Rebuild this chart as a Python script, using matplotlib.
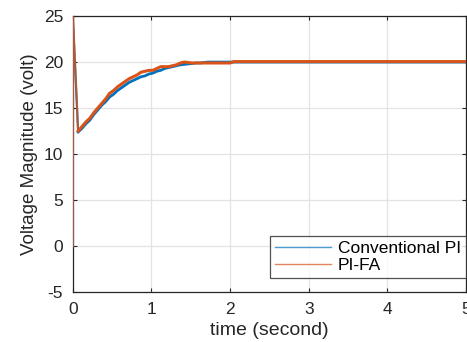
import matplotlib.pyplot as plt

plt.rcParams['font.family'] = ['Liberation Sans', 'DejaVu Sans']
plt.rcParams['axes.unicode_minus'] = False

# ── data ──────────────────────────────────────────────────────
# start-up spike: 0 V -> peak -> dip
spike_t = [0.0, 0.002, 0.067]
pi_spike_v = [0.0, 24.4, 12.4]
fa_spike_v = [0.0, 25.0, 12.5]

# recovery, sampled every ~0.05 s
ramp_t = [0.067, 0.117, 0.167, 0.217, 0.267, 0.317, 0.367, 0.417, 0.467, 0.517,
          0.567, 0.617, 0.667, 0.717, 0.767, 0.817, 0.867, 0.917, 0.967, 1.017,
          1.067, 1.117, 1.167, 1.217, 1.267, 1.317, 1.367, 1.417, 1.467, 1.517,
          1.567, 1.617, 1.667, 1.717, 2.0, 2.05, 5.0]
pi_v = [12.4, 12.8, 13.3, 13.7, 14.3, 14.8, 15.3, 15.7, 16.2, 16.5,
        16.9, 17.2, 17.5, 17.8, 18.0, 18.2, 18.4, 18.5, 18.7, 18.8,
        19.0, 19.1, 19.3, 19.4, 19.5, 19.6, 19.7, 19.75, 19.8, 19.85,
        19.9, 19.9, 19.95, 20.0, 20.0, 20.0, 20.0]
fa_v = [12.5, 13.0, 13.5, 13.9, 14.5, 15.0, 15.5, 16.0, 16.6, 16.9,
        17.3, 17.6, 17.9, 18.2, 18.4, 18.6, 18.9, 19.0, 19.1, 19.1,
        19.3, 19.5, 19.5, 19.5, 19.6, 19.7, 19.9, 20.0, 19.95, 19.9,
        19.9, 19.9, 19.9, 19.9, 19.9, 20.05, 20.05]

x_ticks = [0, 1, 2, 3, 4, 5]
y_ticks = [-5, 0, 5, 10, 15, 20, 25]

BLUE = '#0072BD'
ORANGE = '#D95319'
INK = '#262626'

# ── figure ────────────────────────────────────────────────────
fig = plt.figure(figsize=(4.67, 3.42), dpi=100)
ax = fig.add_axes([0.156, 0.146, 0.842, 0.807])

ax.plot(spike_t, pi_spike_v, color=BLUE, lw=1.5, zorder=3)
ax.plot(ramp_t, pi_v, color=BLUE, lw=2.0, zorder=3, label='Conventional PI')
ax.plot(spike_t, fa_spike_v, color=ORANGE, lw=1.5, alpha=0.8, zorder=4)
ax.plot(ramp_t, fa_v, color=ORANGE, lw=2.2, zorder=4, label='PI-FA')

ax.set_xlim(0, 5)
ax.set_ylim(-5, 25)
ax.set_xticks(x_ticks)
ax.set_yticks(y_ticks)
ax.grid(True, color='#e3e3e3', lw=0.9)
ax.set_axisbelow(True)
ax.tick_params(direction='in', length=3, width=0.8, colors=INK,
               labelsize=12.5, labelcolor=INK, top=True, right=True, pad=7)
for s in ax.spines.values():
    s.set_color(INK)
    s.set_linewidth(0.9)

ax.set_xlabel('time (second)', fontsize=14, color=INK, labelpad=4)
ax.set_ylabel('Voltage Magnitude (volt)', fontsize=13.5, color=INK, labelpad=4)

leg = ax.legend(loc='lower right', fontsize=12.5, frameon=True, fancybox=False,
                edgecolor=INK, handlelength=3.2, handletextpad=0.4,
                borderpad=0.3, labelspacing=0.1, borderaxespad=0.0,
                bbox_to_anchor=(1.0, 0.05))
leg.get_frame().set_linewidth(0.9)
for h in leg.get_lines():
    h.set_linewidth(1.0)
    h.set_alpha(0.7)

fig.savefig('out.png', dpi=100, facecolor='white')
